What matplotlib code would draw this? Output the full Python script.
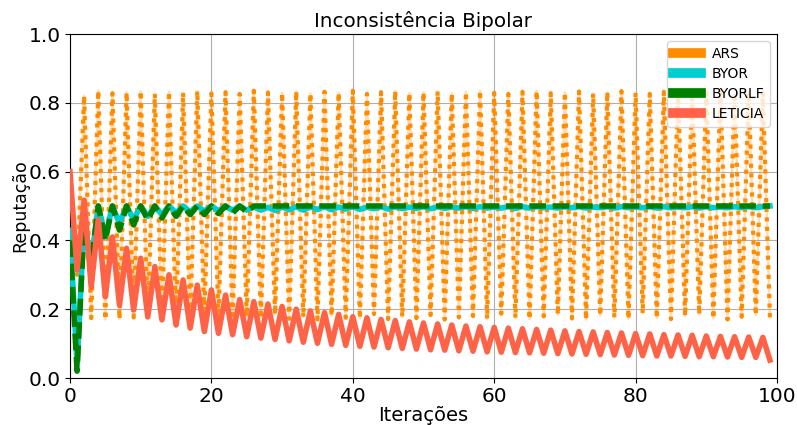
import matplotlib
matplotlib.use("Agg")
import matplotlib.pyplot as plt
from matplotlib.lines import Line2D
import numpy as np

# ---------------- data ----------------
iterations = list(range(100))

ars_start = 0.50
ars_troughs = [0.30, 0.174, 0.17, 0.172, 0.176, 0.171, 0.178, 0.173, 0.17, 0.182,
               0.175, 0.171, 0.179, 0.174, 0.185, 0.172, 0.177, 0.17, 0.181, 0.175,
               0.173, 0.186, 0.171, 0.178, 0.174, 0.183, 0.17, 0.176, 0.18, 0.172,
               0.187, 0.175, 0.171, 0.179, 0.184, 0.173, 0.17, 0.182, 0.176, 0.172,
               0.188, 0.174, 0.171, 0.18, 0.185, 0.173, 0.17, 0.178, 0.183, 0.175]
ars_peaks = [0.82, 0.835, 0.828, 0.83, 0.834, 0.826, 0.832, 0.829, 0.834, 0.827,
             0.831, 0.826, 0.835, 0.83, 0.828, 0.833, 0.827, 0.832, 0.829, 0.835,
             0.826, 0.831, 0.834, 0.828, 0.83, 0.833, 0.827, 0.831, 0.835, 0.829,
             0.826, 0.832, 0.834, 0.828, 0.83, 0.833, 0.827, 0.831, 0.834, 0.829,
             0.826, 0.832, 0.835, 0.828, 0.83, 0.833, 0.827, 0.831, 0.829]

leticia_start = 0.60
leticia_troughs = [0.314, 0.265, 0.236, 0.212, 0.198, 0.178, 0.169, 0.154, 0.145, 0.135,
                   0.13, 0.126, 0.12, 0.116, 0.112, 0.108, 0.104, 0.101, 0.098, 0.095,
                   0.092, 0.09, 0.088, 0.086, 0.084, 0.082, 0.081, 0.079, 0.078, 0.076,
                   0.075, 0.074, 0.073, 0.072, 0.071, 0.07, 0.069, 0.068, 0.067, 0.066,
                   0.065, 0.064, 0.064, 0.063, 0.062, 0.062, 0.061, 0.06, 0.06, 0.052]
leticia_peaks = [0.517, 0.46, 0.41, 0.377, 0.348, 0.324, 0.30, 0.285, 0.27, 0.256,
                 0.241, 0.228, 0.222, 0.215, 0.208, 0.20, 0.195, 0.19, 0.185, 0.178,
                 0.175, 0.17, 0.167, 0.163, 0.16, 0.157, 0.154, 0.151, 0.149, 0.147,
                 0.145, 0.143, 0.141, 0.139, 0.137, 0.135, 0.134, 0.132, 0.131, 0.129,
                 0.128, 0.126, 0.125, 0.124, 0.122, 0.121, 0.12, 0.119, 0.118]

byor = [0.43, 0.04, 0.45, 0.34, 0.50, 0.41, 0.50, 0.45, 0.50, 0.46,
        0.50, 0.47, 0.50, 0.475, 0.50, 0.48, 0.50, 0.483, 0.50, 0.485,
        0.50, 0.486, 0.50, 0.487, 0.50, 0.488,
        0.497, 0.488, 0.496, 0.487, 0.497, 0.489, 0.498, 0.488, 0.497, 0.49,
        0.498, 0.489, 0.497, 0.491, 0.498, 0.49, 0.497, 0.492, 0.498, 0.491,
        0.498, 0.492, 0.497, 0.493, 0.498, 0.492, 0.498, 0.493, 0.497, 0.494,
        0.498, 0.493, 0.498, 0.494, 0.497, 0.494, 0.498, 0.493, 0.498, 0.494,
        0.498, 0.495, 0.497, 0.494, 0.498, 0.495, 0.498, 0.494, 0.497, 0.495,
        0.498, 0.494, 0.498, 0.495, 0.497, 0.495, 0.498, 0.494, 0.498, 0.495,
        0.497, 0.495, 0.498, 0.494, 0.498, 0.495, 0.497, 0.495, 0.498, 0.495,
        0.498, 0.495, 0.498, 0.50]

byorlf = [0.40, 0.02, 0.45, 0.33, 0.50, 0.40, 0.50, 0.43, 0.50, 0.445,
          0.50, 0.46, 0.50, 0.465, 0.50, 0.47, 0.50, 0.475, 0.50, 0.475,
          0.50, 0.478, 0.50, 0.48, 0.50, 0.483,
          0.50, 0.50, 0.50, 0.50, 0.50, 0.50, 0.50, 0.50, 0.50, 0.50,
          0.50, 0.50, 0.50, 0.50, 0.50, 0.50, 0.50, 0.50, 0.50, 0.50,
          0.50, 0.50, 0.50, 0.50, 0.50, 0.50, 0.50, 0.50, 0.50, 0.50,
          0.50, 0.50, 0.50, 0.50, 0.50, 0.50, 0.50, 0.50, 0.50, 0.50,
          0.50, 0.50, 0.50, 0.50, 0.50, 0.50, 0.50, 0.50, 0.50, 0.50,
          0.50, 0.50, 0.50, 0.50, 0.50, 0.50, 0.50, 0.50, 0.50, 0.50,
          0.50, 0.50, 0.50, 0.50, 0.50, 0.50, 0.50, 0.50, 0.50, 0.50,
          0.50, 0.50, 0.50, 0.50]

labels = ["ARS", "BYOR", "BYORLF", "LETICIA"]
title = "Inconsistência Bipolar"
xlabel = "Iterações"
ylabel = "Reputação"


def interleave(start, troughs, peaks):
    out = [start]
    for i, t in enumerate(troughs):
        out.append(t)
        if i < len(peaks):
            out.append(peaks[i])
    return out


ars = interleave(ars_start, ars_troughs, ars_peaks)
leticia = interleave(leticia_start, leticia_troughs, leticia_peaks)

# ---------------- plot ----------------
plt.rcParams['font.family'] = ['DejaVu Sans']
fig = plt.figure(figsize=(7.97, 4.25), dpi=100)
ax = fig.add_axes([70 / 797, 47 / 425, 707 / 797, 344 / 425])

c_ars, c_byor, c_byorlf, c_let = "darkorange", "darkturquoise", "green", "tomato"

ax.plot(iterations, ars, color=c_ars, lw=1.8, alpha=0.3, zorder=2)
ax.plot(iterations, ars, color=c_ars, lw=3, linestyle=(0, (1, 1.3)), zorder=2.1)
ax.plot(iterations, byor, color=c_byor, lw=4, zorder=3)
ax.plot(iterations, byorlf, color=c_byorlf, lw=4, linestyle=(0, (3, 1.2)), zorder=4)
ax.plot(iterations, leticia, color=c_let, lw=4, zorder=5)

ax.set_xlim(0, 100)
ax.set_ylim(0, 1.0)
ax.set_xticks([0, 20, 40, 60, 80, 100])
ax.set_yticks([0.0, 0.2, 0.4, 0.6, 0.8, 1.0])
ax.tick_params(labelsize=14.5, pad=3)
ax.grid(True, color="#b0b0b0", lw=0.8)
ax.set_axisbelow(True)

ax.set_title(title, fontsize=14.3, pad=5)
ax.set_xlabel(xlabel, fontsize=14)
ax.xaxis.set_label_coords(0.5, -0.08)
ax.set_ylabel(ylabel, fontsize=12.5)
ax.yaxis.set_label_coords(-0.057, 0.5)

handles = [Line2D([0], [0], color=c, lw=7) for c in (c_ars, c_byor, c_byorlf, c_let)]
ax.legend(handles, labels, loc="upper right", fontsize=10, labelspacing=0.45)

fig.savefig("out.png", dpi=100)
